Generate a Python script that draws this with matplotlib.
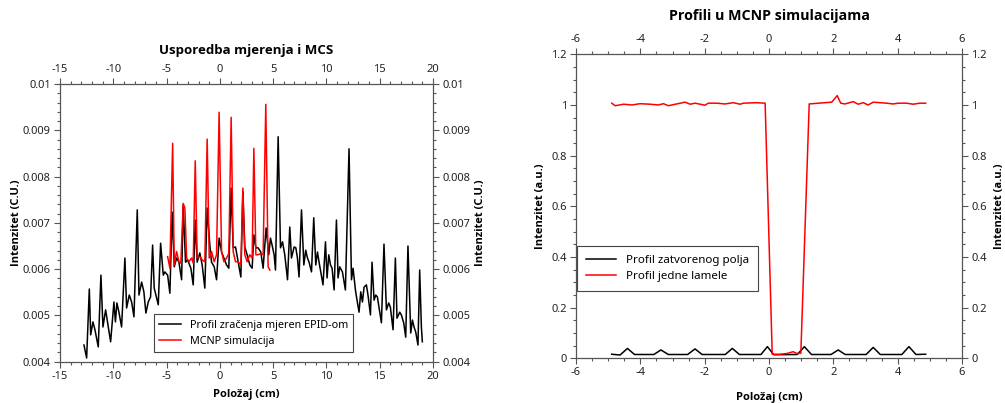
import matplotlib
matplotlib.use('Agg')
import matplotlib.pyplot as plt
import numpy as np
from matplotlib.ticker import MultipleLocator, FuncFormatter
from matplotlib import font_manager as fm

plt.rcParams['font.family'] = ['Noto Sans', 'DejaVu Sans']
plt.rcParams['axes.unicode_minus'] = False

# pick a family that really has a bold face
BOLD_FAMILY = 'DejaVu Sans'
for fam in ['Noto Sans', 'Open Sans', 'Roboto', 'Lato']:
    try:
        p = fm.findfont(fm.FontProperties(family=fam, weight='bold'), fallback_to_default=False)
        if 'bold' in p.lower():
            BOLD_FAMILY = fam
            break
    except Exception:
        pass

# ---------------- data: left panel (values of intensity in 1e-3 C.U.) ----------------
epid_x = [-12.75, -12.50, -12.25, -12.12, -11.91, -11.72, -11.41, -11.16, -10.97, -10.72,
          -10.50, -10.25, -9.94, -9.80, -9.66, -9.47, -9.22, -8.91, -8.75, -8.50,
          -8.28, -8.06, -7.75, -7.59, -7.34, -7.13, -6.94, -6.72, -6.50, -6.31,
          -6.16, -6.00, -5.78, -5.56, -5.31, -5.16, -4.90, -4.69, -4.47, -4.28,
          -4.06, -3.84, -3.59, -3.44, -3.22, -3.03, -2.72, -2.50, -2.31, -2.13,
          -1.88, -1.66, -1.41, -1.19, -0.94, -0.78, -0.53, -0.31, -0.07, 0.16,
          0.38, 0.63, 0.84, 1.06, 1.25, 1.47, 1.72, 1.97, 2.16, 2.34,
          2.56, 2.81, 3.03, 3.19, 3.38, 3.59, 3.84, 4.06, 4.34, 4.59,
          4.75, 4.90, 5.09, 5.22, 5.47, 5.69, 5.88, 6.09, 6.35, 6.56,
          6.72, 6.97, 7.13, 7.28, 7.43, 7.66, 7.88, 8.06, 8.22, 8.37,
          8.60, 8.81, 9.00, 9.16, 9.31, 9.47, 9.68, 9.91, 10.06, 10.22,
          10.38, 10.53, 10.72, 10.94, 11.09, 11.25, 11.50, 11.78, 12.12, 12.35,
          12.50, 12.72, 12.87, 13.06, 13.22, 13.38, 13.53, 13.75, 13.90, 14.13,
          14.28, 14.47, 14.63, 14.78, 14.93, 15.16, 15.40, 15.63, 15.84, 16.00,
          16.25, 16.47, 16.62, 16.88, 17.03, 17.25, 17.44, 17.65, 17.91, 18.07,
          18.22, 18.38, 18.59, 18.75, 18.91, 19.00]
epid_y_milli = [4.36, 4.08, 5.57, 4.58, 4.86, 4.69, 4.32, 5.87, 4.75, 5.12,
                4.79, 4.43, 5.29, 4.86, 5.27, 5.07, 4.75, 6.24, 5.16, 5.44,
                5.29, 4.97, 7.28, 5.44, 5.72, 5.51, 5.05, 5.29, 5.40, 6.52,
                5.59, 5.44, 5.23, 6.56, 5.87, 5.94, 5.87, 5.48, 7.23, 6.05,
                6.24, 6.15, 5.77, 7.39, 6.15, 6.20, 6.02, 5.66, 7.06, 6.15,
                6.35, 6.09, 5.59, 7.32, 6.52, 6.15, 6.05, 5.77, 6.67, 6.37,
                6.24, 6.09, 6.02, 7.75, 6.46, 6.48, 6.15, 5.83, 7.67, 6.48,
                6.31, 6.09, 6.02, 6.74, 6.46, 6.46, 6.37, 6.02, 6.89, 6.31,
                6.67, 6.52, 6.31, 5.98, 8.86, 6.46, 6.59, 6.31, 5.77, 6.91,
                6.24, 6.48, 6.46, 6.24, 5.83, 7.28, 6.09, 6.41, 6.24, 6.15,
                5.94, 7.11, 6.09, 6.37, 6.15, 5.94, 5.66, 6.59, 5.81, 6.31,
                6.09, 6.02, 5.55, 7.06, 5.81, 6.05, 5.94, 5.55, 8.60, 5.77,
                6.02, 5.55, 5.33, 5.07, 5.51, 5.29, 5.61, 5.66, 5.44, 5.01,
                6.15, 5.33, 5.44, 5.40, 5.18, 4.84, 6.54, 5.12, 5.27, 5.18,
                4.69, 6.24, 4.94, 5.07, 5.01, 4.84, 4.53, 6.50, 4.62, 4.90,
                4.75, 4.64, 4.36, 5.98, 4.75, 4.43]

mcnp_x = [-4.90, -4.69, -4.43, -4.28, -4.06, -3.84, -3.66, -3.44, -3.28, -3.12,
          -2.91, -2.65, -2.50, -2.31, -2.13, -1.88, -1.66, -1.41, -1.19, -1.00,
          -0.78, -0.53, -0.31, -0.07, 0.16, 0.38, 0.63, 0.84, 1.06, 1.25,
          1.47, 1.72, 1.97, 2.16, 2.34, 2.56, 2.81, 3.03, 3.19, 3.38,
          3.59, 3.84, 4.06, 4.31, 4.53, 4.69]
mcnp_y_milli = [6.27, 6.02, 8.72, 6.09, 6.38, 6.16, 6.13, 7.42, 7.32, 6.24,
                6.16, 6.24, 6.13, 8.34, 6.24, 6.27, 6.20, 6.16, 8.81, 6.24,
                6.38, 6.16, 6.31, 9.39, 6.38, 6.16, 6.24, 6.34, 9.28, 6.38,
                6.16, 6.16, 6.09, 7.75, 6.31, 6.16, 6.31, 6.24, 8.61, 6.31,
                6.31, 6.34, 6.31, 9.56, 6.05, 5.98]

left_xticks = [-15, -10, -5, 0, 5, 10, 15, 20]
left_yticks = [0.004, 0.005, 0.006, 0.007, 0.008, 0.009, 0.01]

# ---------------- data: right panel ----------------
closed_x = [-4.89, -4.63, -4.40, -4.18, -3.58, -3.36, -3.13, -2.53, -2.30, -2.08,
            -1.36, -1.14, -0.92, -0.25, -0.05, 0.15, 0.88, 1.10, 1.32, 1.93,
            2.15, 2.37, 3.02, 3.24, 3.46, 4.13, 4.35, 4.57, 4.87]
closed_y = [0.016, 0.013, 0.039, 0.015, 0.015, 0.033, 0.015, 0.015, 0.037, 0.015,
            0.015, 0.039, 0.015, 0.015, 0.046, 0.014, 0.015, 0.046, 0.015, 0.015,
            0.033, 0.015, 0.015, 0.043, 0.015, 0.015, 0.046, 0.015, 0.016]

leaf_x = [-4.89, -4.78, -4.52, -4.26, -4.01, -3.70, -3.44, -3.28, -3.13, -2.87,
          -2.61, -2.45, -2.30, -2.14, -1.99, -1.89, -1.62, -1.37, -1.11, -0.90,
          -0.80, -0.38, -0.12, 0.10, 0.34, 0.56, 0.75, 0.87, 0.99, 1.25,
          1.53, 1.95, 2.12, 2.23, 2.36, 2.62, 2.77, 2.93, 3.08, 3.24,
          3.45, 3.66, 3.86, 4.02, 4.28, 4.48, 4.69, 4.87]
leaf_y = [1.007, 0.997, 1.003, 1.000, 1.005, 1.003, 1.000, 1.005, 0.997, 1.004,
          1.011, 1.003, 1.007, 1.003, 0.999, 1.007, 1.007, 1.004, 1.009, 1.003,
          1.007, 1.009, 1.007, 0.016, 0.016, 0.019, 0.026, 0.019, 0.020, 1.004,
          1.007, 1.011, 1.037, 1.007, 1.004, 1.013, 1.003, 1.009, 1.000, 1.011,
          1.009, 1.007, 1.004, 1.007, 1.007, 1.003, 1.007, 1.007]

right_xticks = [-6, -4, -2, 0, 2, 4, 6]
right_yticks = [0, 0.2, 0.4, 0.6, 0.8, 1.0, 1.2]

# ---------------- figure ----------------
fig = plt.figure(figsize=(10.05, 4.03), dpi=100)
W, H = 1005, 403

def px_axes(x0, y0, x1, y1):
    return fig.add_axes([x0 / W, 1 - y1 / H, (x1 - x0) / W, (y1 - y0) / H])

spine_col = '#555555'
fmt = FuncFormatter(lambda v, _: f'{v:g}')
bold = dict(fontweight='bold', family=[BOLD_FAMILY, 'DejaVu Sans'])

def style(ax, xminor, yminor):
    for s in ax.spines.values():
        s.set_color(spine_col)
        s.set_linewidth(0.9)
    ax.xaxis.set_minor_locator(MultipleLocator(xminor))
    ax.yaxis.set_minor_locator(MultipleLocator(yminor))
    ax.tick_params(which='both', direction='out', top=True, right=True,
                   labeltop=True, labelright=True, color=spine_col,
                   labelsize=8, labelcolor='#222222', width=0.8)
    ax.tick_params(which='major', length=4, pad=2.5)
    ax.tick_params(which='minor', length=2)
    ax.yaxis.set_major_formatter(fmt)
    ax.xaxis.set_major_formatter(fmt)

# ---- left panel ----
ax1 = px_axes(60, 84, 433, 361.7)
ax1.plot(epid_x, np.array(epid_y_milli) * 1e-3, color='black', lw=1.1,
         label='Profil zračenja mjeren EPID-om')
ax1.plot(mcnp_x, np.array(mcnp_y_milli) * 1e-3, color='#ff0000', lw=1.1,
         label='MCNP simulacija')
ax1.set_xlim(-15, 20)
ax1.set_ylim(0.004, 0.01)
ax1.set_xticks(left_xticks)
ax1.set_yticks(left_yticks)
style(ax1, 1, 0.0002)
ax1.set_xlabel('Položaj (cm)', fontsize=8, labelpad=5.5, **bold)
ax1.set_ylabel('Intenzitet (C.U.)', fontsize=8, labelpad=1, **bold)
sec1 = ax1.secondary_yaxis('right')
sec1.set_yticks([])
sec1.spines['right'].set_visible(False)
sec1.set_ylabel('Intenzitet (C.U.)', fontsize=8, labelpad=30, **bold)
ax1.text(0.5, 1.12, 'Usporedba mjerenja i MCS', transform=ax1.transAxes,
         ha='center', va='center', fontsize=9.5, **bold)
leg1 = ax1.legend(loc='lower left', bbox_to_anchor=(0.252, 0.035), borderaxespad=0,
                  fontsize=7.8, fancybox=False, framealpha=1, edgecolor='#444444',
                  handlelength=2.0, borderpad=0.5, labelspacing=0.45)
leg1.get_frame().set_linewidth(0.8)

# ---- right panel ----
ax2 = px_axes(576, 54.3, 962, 358.3)
ax2.plot(closed_x, closed_y, color='black', lw=1.1, label='Profil zatvorenog polja')
ax2.plot(leaf_x, leaf_y, color='#ff0000', lw=1.1, label='Profil jedne lamele')
ax2.set_xlim(-6, 6)
ax2.set_ylim(0, 1.2)
ax2.set_xticks(right_xticks)
ax2.set_yticks(right_yticks)
style(ax2, 0.5, 0.05)
ax2.set_xlabel('Položaj (cm)', fontsize=8, labelpad=10, **bold)
ax2.set_ylabel('Intenzitet (a.u.)', fontsize=8, labelpad=4, **bold)
sec2 = ax2.secondary_yaxis('right')
sec2.set_yticks([])
sec2.spines['right'].set_visible(False)
sec2.set_ylabel('Intenzitet (a.u.)', fontsize=8, labelpad=23, **bold)
ax2.text(0.5, 1.125, 'Profili u MCNP simulacijama', transform=ax2.transAxes,
         ha='center', va='center', fontsize=10.3, **bold)
leg2 = ax2.legend(loc='lower left', bbox_to_anchor=(0.003, 0.221), borderaxespad=0,
                  fontsize=8.3, fancybox=False, framealpha=1, edgecolor='#444444',
                  handlelength=2.6, handletextpad=0.9, borderpad=0.75,
                  labelspacing=0.45)
leg2.get_frame().set_linewidth(0.8)

fig.savefig('out.png', dpi=100)
